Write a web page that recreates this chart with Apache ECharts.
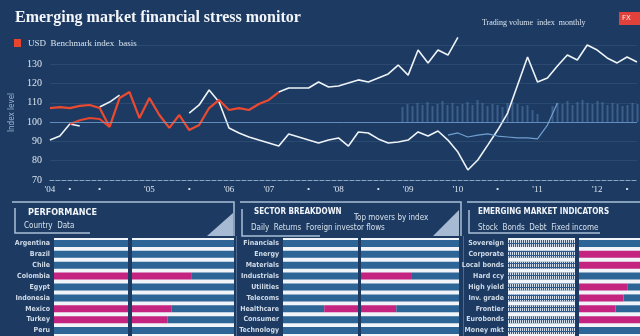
<!DOCTYPE html>
<html><head><meta charset="utf-8">
<script src="https://cdn.jsdelivr.net/npm/echarts@6/dist/echarts.min.js"></script>
<style>html,body{margin:0;padding:0;background:#1d3b62;}#c{width:640px;height:336px;}</style>
</head><body><div id="c"></div>
<script>
// ---------- data ----------
const periods = ['P1','P2','P3','P4','P5','P6','P7','P8','P9','P10','P11','P12','P13','P14','P15','P16','P17','P18','P19','P20',
 'P21','P22','P23','P24','P25','P26','P27','P28','P29','P30','P31','P32','P33','P34','P35','P36','P37','P38','P39','P40',
 'P41','P42','P43','P44','P45','P46','P47','P48','P49','P50','P51','P52','P53','P54','P55','P56','P57','P58','P59','P60'];
const tickIdx  = [0, 2, 5, 10, 14, 18, 22, 26, 29, 33, 36, 41, 45, 49, 55, 58];
const tickText = ["'04","•","•","'05","•","'06","'07","•","'08","•","'09","'10","•","'11","'12","•"];
const yTicks = [70, 80, 90, 100, 110, 120, 130];

const indexLower = [90.7, 92.8, 99.0, 98.0, null, 107.9, 110.4, 114.0, null, null, null, null, null, null, 104.7, 108.9, 116.7, 110.4, 97.0, 94.4,
 92.3, 90.7, 89.2, 87.6, 93.9, 92.3, 90.7, 89.2, 90.7, 91.8, 87.6, 94.9, 94.4, 91.3, 89.2, 89.7, 90.7, 94.9, 92.8, 95.4,
 90.7, 84.5, 75.2, 80.4, 88.1, 95.9, 104.7, 119.3, 133.8, 120.8, 122.9, 129.1, 134.8, 132.2, 140.0, 137.4, 133.3, 130.7, 133.8, 131.2];
const indexUpperRed = [107.3, 107.8, 107.3, 108.4, 108.9, 107.3, 97.5, 112.5, 115.6, 102.1, 112.5, 103.7, 97.0, 103.7, 95.9, 98.5, 107.3, 111.5, 106.3, 107.3,
 106.3, 109.4, 111.5, 115.6, null, null, null, null, null, null, null, null, null, null, null, null, null, null, null, null,
 null, null, null, null, null, null, null, null, null, null, null, null, null, null, null, null, null, null, null, null];
const indexUpperWhite = [null, null, null, null, null, null, null, null, null, null, null, null, null, null, null, null, null, null, null, null,
 null, null, null, 115.6, 117.7, 117.7, 117.7, 120.8, 118.2, 118.7, 120.3, 121.9, 120.8, 122.9, 125.0, 129.6, 124.4, 137.4, 130.7, 137.4,
 134.8, 144.0, null, null, null, null, null, null, null, null, null, null, null, null, null, null, null, null, null, null];
const indexLowerRed = [null, null, 99.0, 101.0, 102.1, 101.6, 97.5, null, null, null, null, null, null, null, null, null, null, null, null, null,
 null, null, null, null, null, null, null, null, null, null, null, null, null, null, null, null, null, null, null, null,
 null, null, null, null, null, null, null, null, null, null, null, null, null, null, null, null, null, null, null, null];
const indexBlue = [null, null, null, null, null, null, null, null, null, null, null, null, null, null, null, null, null, null, null, null,
 null, null, null, null, null, null, null, null, null, null, null, null, null, null, null, null, null, null, null, null,
 93.3, 94.4, 92.3, 93.3, 93.9, 92.8, 92.3, 91.8, 91.8, 91.3, 98.5, 109.9, null, null, null, null, null, null, null, null];
const volume = [15, 18, 16, 19, 17, 20, 16, 18, 21, 17, 19, 16, 18, 20, 17, 22, 19, 16, 18, 17, 15, 19, 20, 18,
 16, 17, 12, 8, 0, 0, 16, 19, 18, 21, 17, 20, 22, 19, 18, 21, 20, 17, 19, 18, 16, 17, 19, 18];

const rowsP1 = ['Argentina','Brazil','Chile','Colombia','Egypt','Indonesia','Mexico','Turkey','Peru'];
const rowsP2 = ['Financials','Energy','Materials','Industrials','Utilities','Telecoms','Healthcare','Consumer','Technology'];
const rowsP3 = ['Sovereign','Corporate','Local bonds','Hard ccy','High yield','Inv. grade','Frontier','Eurobonds','Money mkt'];

const p1c1Off = [0,0,0,0,0,0,0,0,0];    const p1c1Mag = [0,0,0,100,0,0,100,100,0];
const p1c2Off = [0,0,0,0,0,0,0,0,0];    const p1c2Mag = [0,0,0,58,0,0,39,35,0];
const p2c1Off = [0,0,0,0,0,0,55,0,0];   const p2c1Mag = [0,0,0,0,0,0,45,0,0];
const p2c2Off = [0,0,0,0,0,0,0,0,0];    const p2c2Mag = [0,0,0,52,0,0,36,0,0];
const p3c1Val = [100,100,100,100,100,100,100,100,100];
const p3c2Off = [0,0,0,0,0,0,0,0,0];    const p3c2Mag = [0,100,100,0,80,73,60,100,0];

// ---------- chart ----------
const chart = echarts.init(document.getElementById('c'), null, {renderer:'canvas'});
const TXT = '#dbe5f0';
const BLUE = '#2c6596', MAG = '#c4237f', WHITE_BG = '#f1f5f9';

const grids = [
  {left:45, right:0, top:45, height:135},
  {left:400, right:0, top:96, height:26},
];
const xAxes = [
  {gridIndex:0, type:'category', data:periods, boundaryGap:false,
   axisLine:{lineStyle:{color:'#8aa6c4', type:'dashed', width:1}}, axisTick:{show:false},
   axisLabel:{interval:0, color:TXT, fontSize:9, fontFamily:'Liberation Serif', margin:5,
     formatter:(v,i)=>{const k=tickIdx.indexOf(i); return k>=0?tickText[k]:'';}}},
  {gridIndex:1, type:'category', data:volume.map((_,i)=>i), show:false},
];
const yAxes = [
  {gridIndex:0, type:'value', min:70, max:140, interval:10,
   name:'Index level', nameLocation:'middle', nameGap:30, nameRotate:90,
   nameTextStyle:{color:'#9fb8d2', fontSize:8, fontFamily:'DejaVu Sans Condensed'},
   axisLine:{show:false}, axisTick:{show:false},
   axisLabel:{color:TXT, fontSize:10, fontFamily:'Liberation Serif', showMaxLabel:false,
     formatter:v=>yTicks.indexOf(v)>=0?String(v):''},
   splitLine:{lineStyle:{color:'rgba(140,175,210,0.13)'}}},
  {gridIndex:1, type:'value', min:0, max:26, show:false},
];
const series = [
  {type:'bar', xAxisIndex:1, yAxisIndex:1, data:volume, barWidth:2, silent:true,
   itemStyle:{color:'rgba(95,140,190,0.45)'}},
  {type:'line', xAxisIndex:0, yAxisIndex:0, data:indexLower, symbol:'none', clip:false,
   lineStyle:{color:'#eef3f8', width:1.6},
   markLine:{silent:true, symbol:'none', label:{show:false}, lineStyle:{color:'rgba(120,170,220,0.7)', type:'solid', width:1},
     data:[{yAxis:100}]}},
  {type:'line', xAxisIndex:0, yAxisIndex:0, data:indexUpperWhite, symbol:'none', clip:false,
   lineStyle:{color:'#eef3f8', width:1.6}},
  {type:'line', xAxisIndex:0, yAxisIndex:0, data:indexBlue, symbol:'none',
   lineStyle:{color:'#6f9fd0', width:1.2}},
  {type:'line', xAxisIndex:0, yAxisIndex:0, data:indexLowerRed, symbol:'none',
   lineStyle:{color:'#e8452f', width:2}},
  {type:'line', xAxisIndex:0, yAxisIndex:0, data:indexUpperRed, symbol:'none',
   lineStyle:{color:'#ec4a30', width:2.2}},
];

const panels = [
  {left:54,  width:74, labels:rowsP1, off:p1c1Off, mag:p1c1Mag, showLabels:true},
  {left:132, width:102, labels:rowsP1, off:p1c2Off, mag:p1c2Mag},
  {left:283, width:75, labels:rowsP2, off:p2c1Off, mag:p2c1Mag, showLabels:true},
  {left:361, width:98, labels:rowsP2, off:p2c2Off, mag:p2c2Mag},
  {left:508, width:67, labels:rowsP3, full:p3c1Val, showLabels:true, striped:true},
  {left:579, width:61, labels:rowsP3, off:p3c2Off, mag:p3c2Mag},
];
panels.forEach((p, k) => {
  const gi = grids.length;
  grids.push({left:p.left, width:p.width, top:238, height:99, show:true, backgroundColor:WHITE_BG, borderWidth:0});
  xAxes.push({gridIndex:gi, type:'value', min:0, max:100, show:false});
  yAxes.push({gridIndex:gi, type:'category', data:p.labels, inverse:true,
    axisLine:{show:false}, axisTick:{show:false}, splitLine:{show:false},
    axisLabel:{show:!!p.showLabels, color:'#cfdbe8', fontSize:7, fontWeight:'bold', fontFamily:'DejaVu Sans Condensed', margin:4}});
  const base = {type:'bar', xAxisIndex:gi, yAxisIndex:gi, barWidth:7, silent:true, stack:'s'+k};
  if (p.striped) {
    series.push(Object.assign({}, base, {data:p.full,
      itemStyle:{color:'#2a5a8f', decal:{symbol:'rect', symbolSize:1, dashArrayX:[1,1], dashArrayY:[3,1], color:'rgba(240,245,252,0.85)'}}}));
  } else {
    const rest = p.off.map((o,i)=>100 - o - p.mag[i]);
    series.push(Object.assign({}, base, {data:p.off, itemStyle:{color:BLUE}}));
    series.push(Object.assign({}, base, {data:p.mag, itemStyle:{color:MAG}}));
    series.push(Object.assign({}, base, {data:rest, itemStyle:{color:BLUE}}));
  }
});

const LINE = '#a9c0d8';
const graphic = [
  {type:'text', left:15, top:10, style:{text:'Emerging market financial stress monitor', fill:'#f2f5f9', font:'bold 16px "Liberation Serif"'}},
  {type:'rect', shape:{x:14, y:39, width:7, height:8}, style:{fill:'#e8452f'}},
  {type:'text', x:28, y:39, style:{text:'USD  Benchmark index  basis', fill:'#d7e2ee', font:'9px "Liberation Serif"'}},
  {type:'text', x:482, y:19, style:{text:'Trading volume  index  monthly', fill:'#d7e2ee', font:'8px "Liberation Serif"'}},
  {type:'rect', shape:{x:619, y:12, width:21, height:13}, style:{fill:'#e0413a'}},
  {type:'text', x:622, y:15, style:{text:'FX', fill:'#ffe9e6', font:'7px "DejaVu Sans"'}},
  {type:'polyline', shape:{points:[[12,202],[234,202],[234,236]]}, style:{stroke:LINE, lineWidth:1.5, fill:null}},
  {type:'polyline', shape:{points:[[15,208],[15,233],[90,233]]}, style:{stroke:LINE, lineWidth:1.5, fill:null}},
  {type:'polyline', shape:{points:[[240,202],[461,202],[461,236]]}, style:{stroke:LINE, lineWidth:1.5, fill:null}},
  {type:'polyline', shape:{points:[[242,209],[242,236],[320,236]]}, style:{stroke:LINE, lineWidth:1.5, fill:null}},
  {type:'polyline', shape:{points:[[467,202],[640,202]]}, style:{stroke:LINE, lineWidth:1.5, fill:null}},
  {type:'polyline', shape:{points:[[469,210],[469,233],[600,233]]}, style:{stroke:LINE, lineWidth:1.5, fill:null}},
  {type:'line', shape:{x1:236.5, y1:236, x2:236.5, y2:336}, style:{stroke:'rgba(170,195,220,0.35)', lineWidth:1}},
  {type:'line', shape:{x1:463.5, y1:236, x2:463.5, y2:336}, style:{stroke:'rgba(170,195,220,0.35)', lineWidth:1}},
  {type:'polygon', shape:{points:[[207,236],[233,236],[233,213]]}, style:{fill:'rgba(190,210,232,0.85)'}},
  {type:'polygon', shape:{points:[[433,236],[459,236],[459,210]]}, style:{fill:'rgba(190,210,232,0.85)'}},
  {type:'text', x:28, y:208, style:{text:'PERFORMANCE', fill:'#f0f4f9', font:'bold 9px "DejaVu Sans Condensed"'}},
  {type:'text', x:24, y:222, style:{text:'Country  Data', fill:'#d5e0ec', font:'8px "DejaVu Sans Condensed"'}},
  {type:'text', x:254, y:208, style:{text:'SECTOR BREAKDOWN', fill:'#f0f4f9', font:'bold 8px "DejaVu Sans Condensed"'}},
  {type:'text', x:354, y:214, style:{text:'Top movers by index', fill:'#d5e0ec', font:'8px "DejaVu Sans Condensed"'}},
  {type:'text', x:251, y:224, style:{text:'Daily  Returns  Foreign investor flows', fill:'#d5e0ec', font:'8px "DejaVu Sans Condensed"'}},
  {type:'text', x:478, y:208, style:{text:'EMERGING MARKET INDICATORS', fill:'#f0f4f9', font:'bold 8px "DejaVu Sans Condensed"'}},
  {type:'text', x:478, y:224, style:{text:'Stock  Bonds  Debt  Fixed income', fill:'#d5e0ec', font:'8px "DejaVu Sans Condensed"'}},
];

chart.setOption({
  backgroundColor:'#1d3b62',
  animation:false,
  grid:grids, xAxis:xAxes, yAxis:yAxes, series:series, graphic:graphic
});
</script></body></html>
